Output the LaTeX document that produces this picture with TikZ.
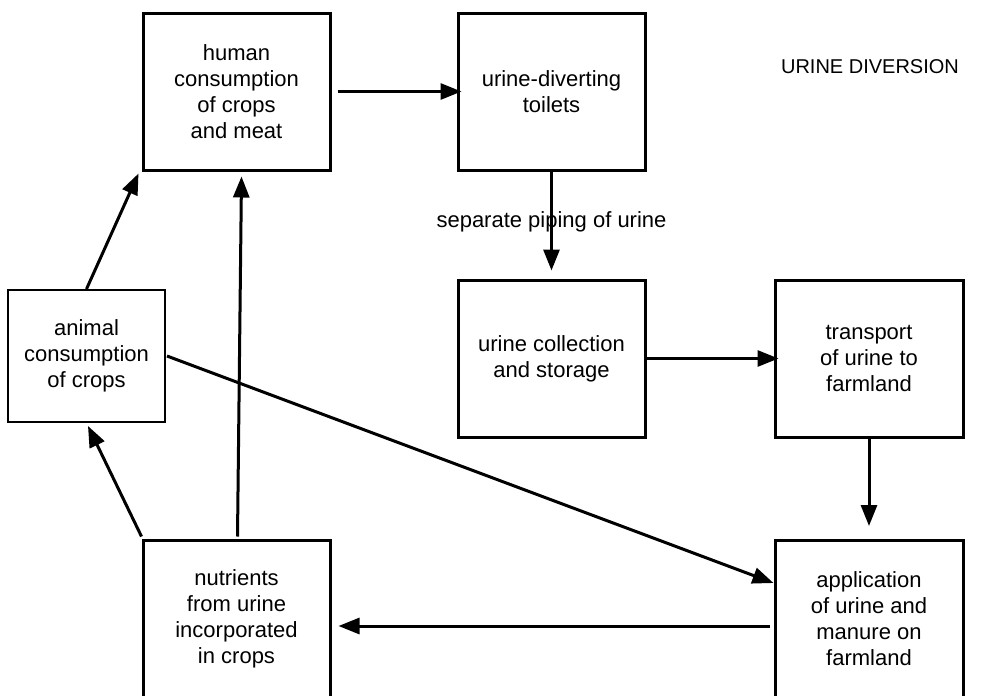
\documentclass[tikz,border=0pt]{standalone}
\usepackage{fontspec}
\setmainfont{Liberation Sans}
\usetikzlibrary{arrows.meta}
\begin{document}
\begin{tikzpicture}[x=1pt,y=-1pt,
  every node/.style={font=\fontsize{22}{26}\selectfont, align=center, inner sep=0pt},
  stage/.style={draw, line width=3pt, minimum width=187pt, minimum height=157pt},
  thinstage/.style={draw, line width=2pt, minimum width=157pt, minimum height=132pt},
  flow/.style={line width=3pt, -{Triangle[length=21pt,width=16pt]}}]
  \useasboundingbox (0,0) rectangle (988,696);

  % process stages
  \node[stage] (human) at (236.5,91.5) {human\\consumption\\of crops\\and meat};
  \node[stage] (toilets) at (551.5,91.5) {urine-diverting\\toilets};
  \node[stage] (collect) at (551.5,358.5) {urine collection\\and storage};
  \node[stage, minimum width=188pt] (transport) at (869,358.5) {transport\\of urine to\\farmland};
  \node[stage, minimum width=188pt] (apply) at (869,619) {application\\of urine and\\manure on\\farmland};
  \node[stage] (nutrients) at (236.5,618.5) {nutrients\\from urine\\incorporated\\in crops};
  \node[thinstage] (animal) at (86.5,356) {animal\\consumption\\of crops};

  % title
  \node[font=\fontsize{20}{24}\selectfont] (title) at (870,67) {URINE DIVERSION};

  % label on the piping connector (drawn under the line)
  \node (pipelabel) at (551.5,222) {separate piping of urine};

  % connectors
  \draw[flow] ([xshift=6pt]human.east) -- ([xshift=5pt]toilets.west);
  \draw[flow] (toilets.south) -- ([yshift=8pt]collect.north);
  \draw[flow] (collect.east) -- ([xshift=5pt]transport.west);
  \draw[flow] (transport.south) -- ([yshift=13pt]apply.north);
  \draw[flow] ([xshift=-4pt,yshift=-7pt]apply.west) -- ([xshift=7pt,yshift=-7.5pt]nutrients.east);
  \draw[flow] ([xshift=1pt,yshift=2pt]nutrients.north) -- ([xshift=5pt,yshift=-5pt]human.south);
  \draw[flow] ([yshift=2pt]nutrients.north west) -- ([xshift=1.5pt,yshift=-3pt]animal.south);
  \draw[flow] (animal.north) -- ([xshift=-3pt,yshift=-2pt]human.south west);
  \draw[flow] ([xshift=1pt]animal.east) -- ([yshift=36pt]apply.west);
\end{tikzpicture}
\end{document}
